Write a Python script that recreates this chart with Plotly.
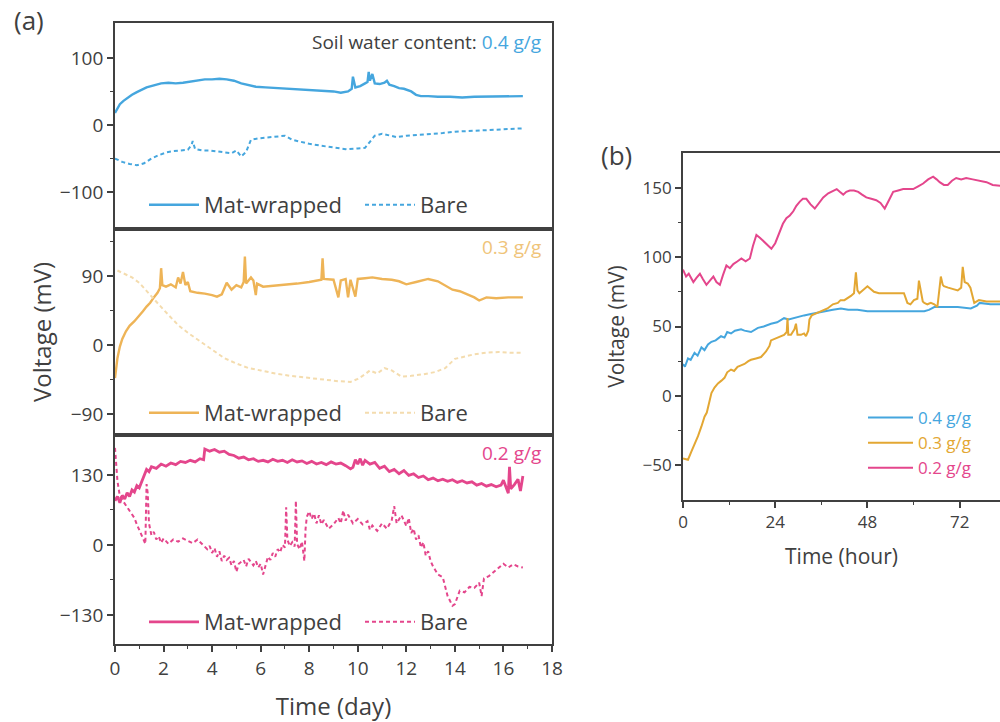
import plotly.graph_objects as go

FONT = "Open Sans"
INK = "#404040"

BLUE = "#45A6DE"
ORANGE = "#EEB457"
ORANGE_PALE = "#F4DCAE"
ORANGE_B = "#E3A733"
PINK = "#E4468C"

# ---- (a) daily records: (day, mV) ----
mat_04 = [(0, 18), (0.1, 25), (0.2, 31), (0.35, 36), (0.5, 40), (0.7, 45), (0.9, 49), (1.1, 52),
          (1.3, 56), (1.6, 59), (1.9, 62), (2.2, 63), (2.5, 62), (2.8, 63), (3.1, 65), (3.4, 66),
          (3.7, 68), (4.0, 68), (4.3, 69), (4.6, 68), (4.9, 66), (5.2, 62), (5.5, 59), (5.8, 57),
          (6.2, 56), (6.6, 55), (7.0, 54), (7.5, 53), (8.0, 52), (8.5, 51), (9.0, 50), (9.3, 48),
          (9.6, 50), (9.75, 54), (9.8, 72), (9.9, 56), (10.1, 58), (10.3, 62), (10.4, 64), (10.45, 79),
          (10.5, 66), (10.6, 76), (10.7, 62), (10.9, 61), (11.1, 63), (11.2, 66), (11.3, 60), (11.5, 58),
          (11.7, 55), (11.9, 54), (12.1, 52), (12.2, 50), (12.4, 45), (12.6, 43), (12.9, 43), (13.3, 42),
          (13.8, 42), (14.3, 41), (14.8, 42), (15.3, 42), (15.8, 43), (16.3, 43), (16.8, 43)]

bare_04 = [(0, -50), (0.3, -55), (0.6, -58), (0.9, -60), (1.2, -57), (1.5, -50), (1.8, -45), (2.1, -41),
           (2.4, -39), (2.7, -38), (3.0, -37), (3.15, -30), (3.2, -24), (3.3, -36), (3.6, -38), (3.9, -38),
           (4.2, -39), (4.5, -40), (4.8, -42), (5.0, -38), (5.2, -47), (5.4, -40), (5.6, -22), (5.9, -20),
           (6.2, -19), (6.6, -17), (7.0, -16), (7.3, -22), (7.6, -25), (8.0, -28), (8.5, -31), (9.0, -33),
           (9.5, -36), (10.0, -35), (10.3, -34), (10.5, -25), (10.7, -16), (11.0, -13), (11.3, -16),
           (11.6, -18), (12.0, -16), (12.5, -15), (13.0, -13), (13.5, -12), (14.0, -10), (14.5, -9),
           (15.0, -8), (15.5, -7), (16.0, -6), (16.5, -5), (16.8, -5)]

mat_03 = [(0, -43), (0.05, -30), (0.1, -17), (0.2, -2), (0.3, 8), (0.45, 18), (0.6, 25), (0.8, 31),
          (1.0, 38), (1.15, 44), (1.3, 50), (1.45, 55), (1.6, 62), (1.75, 68), (1.85, 74), (1.9, 100),
          (1.95, 78), (2.1, 76), (2.3, 79), (2.5, 75), (2.6, 88), (2.7, 80), (2.8, 95), (2.9, 78),
          (3.0, 82), (3.1, 70), (3.4, 68), (3.7, 67), (4.0, 65), (4.2, 63), (4.4, 66), (4.6, 81),
          (4.8, 72), (5.0, 78), (5.2, 75), (5.3, 82), (5.35, 115), (5.4, 80), (5.6, 88), (5.7, 84),
          (5.8, 65), (5.85, 80), (6.1, 76), (6.5, 77), (7.0, 78), (7.5, 80), (8.0, 82), (8.3, 84),
          (8.5, 85), (8.55, 113), (8.6, 86), (9.0, 85), (9.2, 62), (9.3, 84), (9.5, 86), (9.6, 62),
          (9.7, 85), (9.9, 63), (10.0, 86), (10.3, 87), (10.6, 88), (11.0, 86), (11.4, 85), (11.7, 83),
          (12.0, 79), (12.4, 82), (12.9, 86), (13.3, 83), (13.6, 78), (13.9, 72), (14.2, 70), (14.5, 66),
          (14.8, 62), (15.0, 58), (15.3, 62), (15.7, 61), (16.2, 62), (16.8, 62)]

bare_03 = [(0.1, 97), (0.4, 93), (0.7, 88), (1.0, 81), (1.3, 70), (1.6, 60), (2.0, 46), (2.3, 36),
           (2.6, 26), (3.0, 16), (3.5, 5), (4.0, -6), (4.5, -17), (5.0, -24), (5.5, -30), (6.0, -33),
           (6.6, -37), (7.2, -40), (8.0, -43), (8.6, -45), (9.2, -47), (9.7, -48), (10.0, -44),
           (10.3, -38), (10.5, -33), (10.8, -37), (11.1, -30), (11.4, -33), (11.8, -41), (12.2, -40),
           (12.7, -38), (13.2, -35), (13.6, -30), (14.0, -18), (14.4, -15), (14.8, -12), (15.3, -10),
           (15.8, -9), (16.3, -10), (16.8, -10)]

mat_02 = [(0, 82), (0.1, 90), (0.2, 78), (0.3, 92), (0.4, 85), (0.5, 97), (0.6, 90), (0.7, 102),
          (0.8, 98), (0.9, 110), (1.0, 106), (1.1, 118), (1.2, 128), (1.3, 140), (1.4, 136), (1.5, 145),
          (1.7, 142), (1.9, 150), (2.1, 146), (2.3, 152), (2.5, 149), (2.7, 155), (2.9, 153), (3.1, 157),
          (3.3, 154), (3.5, 160), (3.65, 158), (3.7, 178), (3.9, 174), (4.1, 177), (4.3, 172), (4.5, 174),
          (4.7, 168), (4.9, 166), (5.1, 161), (5.3, 163), (5.5, 158), (5.7, 160), (5.9, 155), (6.1, 157),
          (6.3, 154), (6.5, 159), (6.7, 155), (6.9, 157), (7.1, 153), (7.3, 158), (7.5, 154), (7.7, 156),
          (7.9, 151), (8.1, 155), (8.3, 150), (8.5, 153), (8.7, 149), (8.9, 154), (9.1, 150), (9.3, 152),
          (9.5, 147), (9.7, 141), (9.8, 144), (9.9, 158), (10.0, 150), (10.1, 160), (10.2, 148),
          (10.3, 157), (10.5, 150), (10.7, 153), (10.9, 142), (11.1, 146), (11.3, 136), (11.5, 140),
          (11.7, 132), (11.9, 138), (12.1, 129), (12.3, 132), (12.5, 125), (12.7, 128), (12.9, 121),
          (13.1, 124), (13.3, 119), (13.5, 122), (13.7, 118), (13.9, 121), (14.1, 116), (14.3, 119),
          (14.5, 115), (14.7, 117), (14.9, 111), (15.1, 114), (15.3, 109), (15.5, 112), (15.7, 108),
          (15.9, 111), (16.0, 120), (16.1, 108), (16.2, 96), (16.25, 145), (16.3, 104), (16.45, 112),
          (16.6, 122), (16.7, 100), (16.8, 128)]

bare_02 = [(0, 180), (0.05, 150), (0.1, 119), (0.2, 90), (0.35, 80), (0.5, 70), (0.65, 62), (0.8, 50),
           (0.9, 38), (1.0, 28), (1.1, 18), (1.2, 8), (1.25, 2), (1.3, 113), (1.35, 95), (1.4, 40),
           (1.5, 18), (1.6, 24), (1.7, 10), (1.8, 16), (1.9, 4), (2.0, 12), (2.2, 2), (2.4, 10),
           (2.6, 6), (2.8, 12), (3.0, 8), (3.2, 3), (3.4, 10), (3.6, 0), (3.8, -8), (3.9, -2),
           (4.0, -15), (4.1, -6), (4.2, -22), (4.3, -12), (4.4, -30), (4.5, -20), (4.6, -28), (4.7, -24),
           (4.8, -38), (4.9, -30), (5.0, -50), (5.1, -35), (5.3, -28), (5.4, -40), (5.5, -26), (5.7, -38),
           (5.8, -30), (5.9, -42), (6.0, -35), (6.1, -55), (6.2, -38), (6.3, -22), (6.4, -28), (6.5, -15),
           (6.6, -22), (6.7, -8), (6.8, -14), (6.9, 0), (7.0, -5), (7.05, 70), (7.1, 10), (7.2, -2),
           (7.3, 5), (7.4, -3), (7.45, 82), (7.5, 2), (7.6, -8), (7.7, 6), (7.8, -30), (7.85, 30),
           (7.9, 52), (8.0, 62), (8.1, 48), (8.2, 58), (8.3, 40), (8.4, 55), (8.5, 38), (8.6, 46),
           (8.8, 30), (9.0, 38), (9.2, 50), (9.3, 40), (9.4, 64), (9.5, 45), (9.6, 56), (9.8, 40),
           (10.0, 48), (10.2, 38), (10.4, 44), (10.5, 28), (10.6, 36), (10.8, 26), (11.0, 40), (11.2, 30),
           (11.4, 46), (11.5, 72), (11.6, 40), (11.8, 55), (12.0, 35), (12.1, 50), (12.2, 22), (12.3, 30),
           (12.4, 10), (12.5, 18), (12.6, -5), (12.7, 5), (12.8, -20), (12.9, -12), (13.0, -30),
           (13.1, -40), (13.3, -55), (13.5, -60), (13.7, -95), (13.9, -113), (14.0, -110), (14.2, -85),
           (14.4, -88), (14.6, -78), (14.8, -80), (15.0, -70), (15.1, -95), (15.2, -62), (15.4, -58),
           (15.6, -50), (15.8, -42), (16.0, -35), (16.2, -42), (16.4, -36), (16.6, -40), (16.8, -42)]

# ---- (b) first days, hourly: (hour, mV) ----
hr_04 = [(0, 23), (0.5, 21), (1.3, 27), (2, 26), (3, 31), (3.8, 29), (4.8, 35), (5.6, 33), (6.5, 37),
         (7.4, 39), (8.5, 40), (9.9, 43), (10.8, 42), (11.5, 46), (12.5, 45), (13.5, 47), (15.1, 48),
         (16, 47), (17.7, 46), (19.5, 49), (21, 50), (22.9, 52), (24.5, 53), (26.3, 56), (27.5, 55),
         (29.8, 57), (31.5, 58), (33.3, 59), (35, 60), (36.7, 61), (39, 62), (41.1, 63), (43, 62),
         (45.4, 62), (48, 61), (51, 61), (54.1, 61), (57, 61), (60, 61), (62.8, 61), (64, 62),
         (65.4, 64), (68, 64), (71.5, 64), (74.9, 63), (76.5, 65), (77.2, 67), (80, 66), (84, 66)]

hr_03 = [(0, -45), (1.3, -46), (2.2, -40), (3.0, -35), (3.9, -29), (4.8, -22), (5.6, -15), (6.2, -12),
         (6.5, -8), (7.0, -4), (7.4, 2), (8.2, 6), (9.1, 9), (10.0, 11), (10.8, 13), (11.5, 17),
         (12.5, 19), (13.3, 18), (14.2, 21), (15.1, 22), (16.0, 23), (17.0, 25), (17.7, 26), (19.0, 27),
         (20.3, 28), (21.6, 32), (22.5, 36), (22.9, 40), (23.8, 41), (24.6, 42), (25.5, 43), (26.3, 44),
         (27.0, 46), (27.2, 56), (27.4, 44), (28.1, 44), (29.0, 48), (29.4, 52), (29.8, 44), (30.7, 44),
         (31.5, 45), (32.0, 43), (32.6, 47), (32.9, 55), (33.5, 58), (35, 60), (36.5, 62), (37.6, 63),
         (39, 66), (40.3, 67), (41, 69), (42, 69), (43.7, 72), (44.5, 74), (45.0, 89), (45.4, 76),
         (45.9, 74), (46.8, 76), (48, 79), (49.7, 75), (51, 74), (52.5, 74), (54.1, 74), (56, 74),
         (57.5, 74), (58.4, 67), (59.2, 66), (60.1, 69), (61.0, 70), (61.4, 83), (61.9, 74), (62.4, 68),
         (62.8, 67), (63.6, 66), (64.5, 67), (65.4, 66), (66.2, 64), (67.1, 86), (67.6, 80), (67.9, 79),
         (69, 78), (70.5, 77), (71.5, 76), (72.4, 78), (72.8, 93), (73.3, 82), (74.1, 81), (74.8, 78),
         (75.4, 72), (75.8, 67), (77, 69), (79, 68), (84, 68)]

hr_02 = [(0, 91), (0.8, 86), (1.5, 88), (2.7, 82), (3.5, 85), (4.4, 88), (5.2, 84), (6.1, 80), (7.0, 83),
         (7.9, 86), (8.7, 82), (9.6, 80), (10.4, 87), (11.3, 94), (12.2, 92), (13.1, 95), (14.2, 97),
         (15.2, 99), (16.3, 97), (17.4, 99), (18.2, 108), (19.1, 116), (20.0, 114), (20.8, 112),
         (22.0, 109), (23.0, 106), (24.0, 110), (25.2, 118), (26.0, 124), (26.9, 128), (27.8, 130),
         (28.7, 133), (29.5, 137), (30.4, 140), (31.2, 142), (32.1, 142), (33.2, 138), (34.3, 135),
         (35.4, 139), (36.5, 143), (37.8, 146), (39.1, 148), (40.0, 149), (40.8, 147), (41.7, 145),
         (42.5, 147), (43.4, 148), (44.5, 148), (45.6, 147), (46.6, 145), (47.7, 143), (49.0, 142),
         (50.3, 141), (51.4, 139), (52.5, 135), (53.6, 141), (54.7, 147), (56.0, 148), (57.3, 149),
         (58.6, 149), (59.9, 149), (61.2, 151), (62.5, 153), (63.8, 156), (65.1, 158), (66.0, 156),
         (66.8, 154), (67.9, 152), (68.9, 152), (70.0, 155), (71.1, 157), (72.4, 156), (73.7, 157),
         (75.4, 156), (77.2, 155), (79.0, 154), (80.6, 152), (84, 151)]

SERIES_LABELS = ["Mat-wrapped", "Bare"]
CONTENT_LABELS = ["0.4 g/g", "0.3 g/g", "0.2 g/g"]

DAY_TICKS = list(range(0, 19, 2))
HOUR_TICKS = [0, 24, 48, 72]
Y_TICKS_04 = [-100, 0, 100]
Y_TICKS_03 = [-90, 0, 90]
Y_TICKS_02 = [-130, 0, 130]
Y_TICKS_B = [-50, 0, 50, 100, 150]


def xs(pairs):
    return [p[0] for p in pairs]


def ys(pairs):
    return [p[1] for p in pairs]


DASH = "4px,3px"
fig = go.Figure()

panel_a = [
    ("x3", "y3", "legend", mat_04, bare_04, BLUE, BLUE, 2.4),
    ("x2", "y2", "legend2", mat_03, bare_03, ORANGE, ORANGE_PALE, 2.4),
    ("x", "y", "legend3", mat_02, bare_02, PINK, PINK, 2.8),
]
for xa, ya, leg, mat, bare, c_mat, c_bare, w_mat in panel_a:
    fig.add_trace(go.Scatter(x=xs(mat), y=ys(mat), mode="lines", name=SERIES_LABELS[0],
                             line=dict(color=c_mat, width=w_mat), xaxis=xa, yaxis=ya, legend=leg))
    fig.add_trace(go.Scatter(x=xs(bare), y=ys(bare), mode="lines", name=SERIES_LABELS[1],
                             line=dict(color=c_bare, width=2, dash=DASH), xaxis=xa, yaxis=ya,
                             legend=leg))

for pairs, col, lab in [(hr_04, BLUE, CONTENT_LABELS[0]), (hr_03, ORANGE_B, CONTENT_LABELS[1]),
                        (hr_02, PINK, CONTENT_LABELS[2])]:
    fig.add_trace(go.Scatter(x=xs(pairs), y=ys(pairs), mode="lines",
                             name=f"<span style='color:{col}'>{lab}</span>",
                             line=dict(color=col, width=2), xaxis="x4", yaxis="y4",
                             legend="legend4", legendgroup=lab))

H = 722.0


def ydom(top_px, bot_px):
    return [1 - bot_px / H, 1 - top_px / H]


def axis_style(size):
    return dict(showline=True, linecolor=INK, linewidth=1.8, mirror=True, ticks="outside",
                ticklen=6, tickwidth=1.5, tickcolor=INK, showgrid=False, zeroline=False,
                tickfont=dict(family=FONT, size=size, color=INK), automargin=False)


def minor(vals):
    return dict(ticks="outside", ticklen=3.5, tickwidth=1.3, tickcolor=INK, tickvals=vals)


XA_DOM = [0.115, 0.552]

layout = dict(
    width=1000, height=722, margin=dict(l=0, r=0, t=0, b=0),
    paper_bgcolor="white", plot_bgcolor="white",
    font=dict(family=FONT, color=INK),
    showlegend=True,
    xaxis=dict(axis_style(19), domain=XA_DOM, anchor="y", range=[0, 18], tickvals=DAY_TICKS,
               minor=minor([1, 3, 5, 7, 9, 11, 13, 15, 17]),
               title=dict(text="Time (day)", font=dict(family=FONT, size=24, color=INK), standoff=21)),
    xaxis2=dict(axis_style(19), domain=XA_DOM, anchor="y2", range=[0, 18], ticks="",
                showticklabels=False),
    xaxis3=dict(axis_style(19), domain=XA_DOM, anchor="y3", range=[0, 18], ticks="",
                showticklabels=False),
    yaxis=dict(axis_style(19), domain=ydom(435, 644), anchor="x", range=[-184, 204],
               tickvals=Y_TICKS_02, minor=minor([-65, 65])),
    yaxis2=dict(axis_style(19), domain=ydom(229, 435), anchor="x2", range=[-117, 151],
                tickvals=Y_TICKS_03, minor=minor([-45, 45, 135]),
                title=dict(text="Voltage (mV)", font=dict(family=FONT, size=24, color=INK),
                           standoff=12)),
    yaxis3=dict(axis_style(19), domain=ydom(23, 229), anchor="x3", range=[-155, 152],
                tickvals=Y_TICKS_04, minor=minor([-50, 50])),
    xaxis4=dict(axis_style(17), domain=[0.683, 1.0], anchor="y4", range=[0, 82.5],
                tickvals=HOUR_TICKS, minor=minor([12, 36, 60]),
                title=dict(text="Time (hour)", font=dict(family=FONT, size=21, color=INK),
                           standoff=17)),
    yaxis4=dict(axis_style(17), domain=ydom(153, 500), anchor="x4", range=[-75, 175],
                tickvals=Y_TICKS_B, mirror=False, minor=minor([-25, 25, 75, 125]),
                title=dict(text="Voltage (mV)", font=dict(family=FONT, size=21, color=INK),
                           standoff=12)),
)

leg_a = dict(orientation="h", font=dict(family=FONT, size=22, color=INK),
             bgcolor="rgba(0,0,0,0)", xanchor="left", yanchor="middle", x=0.144,
             itemwidth=50, entrywidth=151, traceorder="normal")
layout["legend"] = dict(leg_a, y=1 - 205 / H)
layout["legend2"] = dict(leg_a, y=1 - 413 / H)
layout["legend3"] = dict(leg_a, y=1 - 622 / H)
layout["legend4"] = dict(orientation="v", font=dict(family=FONT, size=17, color=INK),
                         bgcolor="rgba(0,0,0,0)", xanchor="left", yanchor="top",
                         x=0.863, y=1 - 400 / H, itemwidth=45, tracegroupgap=1,
                         traceorder="normal")

fig.update_layout(**layout)

notes = [
    dict(text="(a)", x=29 / 1000, y=1 - 20 / H, size=26, color=INK, xanchor="center"),
    dict(text="(b)", x=616 / 1000, y=1 - 155 / H, size=26, color=INK, xanchor="center"),
    dict(text=f"Soil water content: <span style='color:{BLUE}'>{CONTENT_LABELS[0]}</span>",
         x=543 / 1000, y=1 - 42 / H, size=19, color=INK, xanchor="right"),
    dict(text=CONTENT_LABELS[1], x=543 / 1000, y=1 - 247 / H, size=19, color="#EFC47A",
         xanchor="right"),
    dict(text=CONTENT_LABELS[2], x=543 / 1000, y=1 - 453 / H, size=19, color=PINK,
         xanchor="right"),
]
for n in notes:
    fig.add_annotation(text=n["text"], x=n["x"], y=n["y"], xref="paper", yref="paper",
                       xanchor=n["xanchor"], yanchor="middle", showarrow=False,
                       font=dict(family=FONT, size=n["size"], color=n["color"]))

fig.write_html("out.html")
